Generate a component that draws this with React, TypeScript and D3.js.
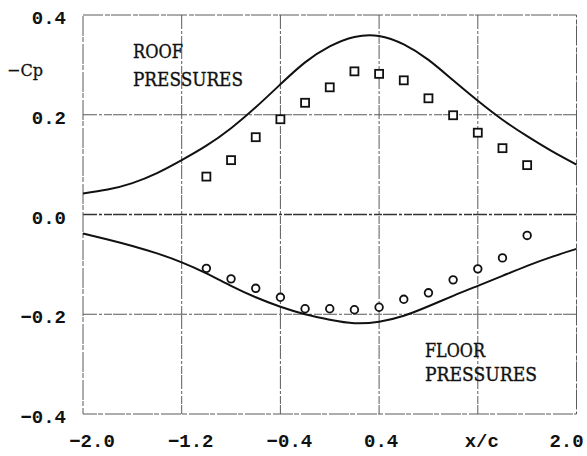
import React from "react";
import * as d3 from "d3";

// Tick values and labels
const xTicks = [-2.0, -1.2, -0.4, 0.4, 1.2, 2.0];
const xTickLabels = ["\u22122.0", "\u22121.2", "\u22120.4", "0.4", "x/c", "2.0"];
const yTicks = [0.4, 0.2, 0.0, -0.2, -0.4];
const yTickLabels = ["0.4", "0.2", "0.0", "\u22120.2", "\u22120.4"];
const xGrid = [-1.2, -0.4, 0.4, 1.2];
const yGrid = [0.2, 0.0, -0.2];

// Measured pressure taps (x/c stations)
const stations = [-1.0, -0.8, -0.6, -0.4, -0.2, 0.0, 0.2, 0.4, 0.6, 0.8, 1.0, 1.2, 1.4, 1.6];
const roofMeasured = [0.076, 0.109, 0.155, 0.191, 0.224, 0.255, 0.287, 0.282, 0.269, 0.233, 0.199, 0.164, 0.133, 0.099];
const floorMeasured = [-0.108, -0.129, -0.148, -0.166, -0.189, -0.189, -0.191, -0.186, -0.170, -0.157, -0.131, -0.109, -0.087, -0.042];

// Theoretical distributions
const theoryX = [-2.0, -1.8, -1.6, -1.4, -1.2, -1.0, -0.8, -0.6, -0.4, -0.2, 0.0, 0.2, 0.4, 0.6, 0.8, 1.0, 1.2, 1.4, 1.6, 1.8, 2.0];
const roofTheory = [0.042, 0.050, 0.063, 0.083, 0.109, 0.138, 0.173, 0.215, 0.261, 0.305, 0.337, 0.356, 0.358, 0.341, 0.310, 0.269, 0.228, 0.190, 0.157, 0.127, 0.100];
const floorTheory = [-0.038, -0.050, -0.063, -0.078, -0.096, -0.118, -0.143, -0.166, -0.185, -0.200, -0.211, -0.218, -0.215, -0.203, -0.184, -0.163, -0.143, -0.123, -0.103, -0.085, -0.069];

const W = 587;
const H = 456;
const plot = { left: 83, right: 576.5, top: 15, bottom: 414 };

const monoFont = "'Liberation Mono', 'DejaVu Sans Mono', monospace";
const serifFont = "'DejaVu Serif', 'Liberation Serif', serif";

export default function App() {
  const x = d3.scaleLinear().domain([-2, 2]).range([plot.left, plot.right]);
  const y = d3.scaleLinear().domain([-0.4, 0.4]).range([plot.bottom, plot.top]);

  const line = d3
    .line<[number, number]>()
    .x((d) => x(d[0]))
    .y((d) => y(d[1]))
    .curve(d3.curveNatural);

  const roofPath = line(theoryX.map((v, i) => [v, roofTheory[i]]) as [number, number][]) || "";
  const floorPath = line(theoryX.map((v, i) => [v, floorTheory[i]]) as [number, number][]) || "";

  const gridStroke = "#5a5a5a";
  const gridDash = "14 2 3 2 8 1";
  const sq = 8;

  const xLabelX = (v: number, i: number) => {
    if (i === xTicks.length - 1) return x(v) - 10;
    if (xTickLabels[i] === "x/c") return x(v) + 4;
    return v < 0 ? x(v) + 9 : x(v) + 2;
  };

  return (
    <svg
      width={W}
      height={H}
      style={{ position: "absolute", left: 0, top: 0, background: "#fff" }}
    >
      <rect x={0} y={0} width={W} height={H} fill="#fff" />

      {/* grid */}
      {xGrid.map((v) => (
        <line
          key={"gx" + v}
          x1={x(v)}
          x2={x(v)}
          y1={plot.top}
          y2={plot.bottom}
          stroke={gridStroke}
          strokeWidth={1}
          strokeDasharray={gridDash}
        />
      ))}
      {yGrid.map((v) => (
        <line
          key={"gy" + v}
          x1={plot.left}
          x2={plot.right}
          y1={y(v)}
          y2={y(v)}
          stroke={v === 0 ? "#333" : gridStroke}
          strokeWidth={v === 0 ? 1.3 : 1}
          strokeDasharray={gridDash}
        />
      ))}

      {/* frame */}
      <rect
        x={plot.left}
        y={plot.top}
        width={plot.right - plot.left}
        height={plot.bottom - plot.top}
        fill="none"
        stroke={gridStroke}
        strokeWidth={1}
        strokeDasharray="20 2 5 1"
      />

      {/* theory curves */}
      <path d={roofPath} fill="none" stroke="#111" strokeWidth={2} />
      <path d={floorPath} fill="none" stroke="#111" strokeWidth={2} />

      {/* roof measurements */}
      {stations.map((v, i) => (
        <rect
          key={"r" + i}
          x={x(v) - sq / 2}
          y={y(roofMeasured[i]) - sq / 2}
          width={sq}
          height={sq}
          fill="#fff"
          stroke="#111"
          strokeWidth={1.8}
        />
      ))}

      {/* floor measurements */}
      {stations.map((v, i) => (
        <circle
          key={"f" + i}
          cx={x(v)}
          cy={y(floorMeasured[i])}
          r={3.8}
          fill="#fff"
          stroke="#111"
          strokeWidth={1.8}
        />
      ))}

      {/* y tick labels */}
      {yTicks.map((v, i) => (
        <text
          key={"yt" + i}
          x={66}
          y={y(v) + 9}
          textAnchor="end"
          fontFamily={monoFont}
          fontWeight="bold"
          fontSize={19}
          fill="#111"
        >
          {yTickLabels[i]}
        </text>
      ))}

      {/* x tick labels */}
      {xTicks.map((v, i) => (
        <text
          key={"xt" + i}
          x={xLabelX(v, i)}
          y={447}
          textAnchor="middle"
          fontFamily={monoFont}
          fontWeight="bold"
          fontSize={19}
          fill="#111"
        >
          {xTickLabels[i]}
        </text>
      ))}

      {/* axis title */}
      <text x={7} y={76} fontFamily={serifFont} fontSize={17} fill="#111" stroke="#111" strokeWidth={0.3} textLength={36} lengthAdjust="spacingAndGlyphs">
        {"\u2212Cp"}
      </text>

      {/* annotations */}
      <g fontFamily={serifFont} fontSize={18} fill="#111" stroke="#111" strokeWidth={0.35}>
        <text x={133} y={58} textLength={50} lengthAdjust="spacingAndGlyphs">ROOF</text>
        <text x={133} y={86} textLength={110} lengthAdjust="spacingAndGlyphs">PRESSURES</text>
        <text x={425} y={357} textLength={60} lengthAdjust="spacingAndGlyphs">FLOOR</text>
        <text x={425} y={381} textLength={112} lengthAdjust="spacingAndGlyphs">PRESSURES</text>
      </g>
    </svg>
  );
}
